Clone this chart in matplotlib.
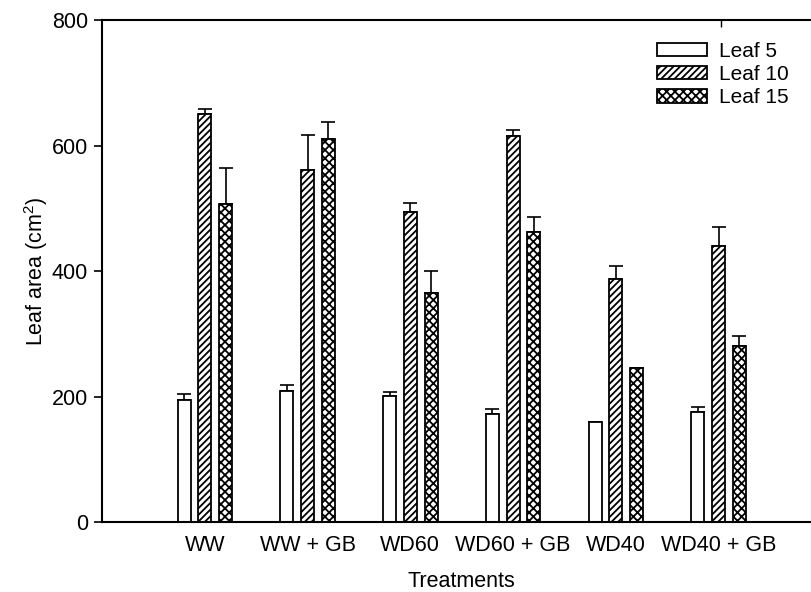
import numpy as np
import matplotlib
matplotlib.use("Agg")
import matplotlib.pyplot as plt

plt.rcParams['font.family'] = ['Liberation Sans', 'DejaVu Sans']
plt.rcParams['mathtext.default'] = 'regular'
plt.rcParams['hatch.linewidth'] = 1.3

treatments = ["WW", "WW + GB", "WD60", "WD60 + GB", "WD40", "WD40 + GB"]
leaf5 = [194, 209, 201, 173, 159, 175]
leaf5_err = [10, 9, 7, 8, 1, 9]
leaf10 = [651, 561, 494, 615, 388, 440]
leaf10_err = [8, 57, 15, 11, 21, 30]
leaf15 = [508, 611, 366, 462, 245, 280]
leaf15_err = [57, 27, 35, 25, 1, 17]

series = [("Leaf 5", leaf5, leaf5_err, ""),
          ("Leaf 10", leaf10, leaf10_err, "/////"),
          ("Leaf 15", leaf15, leaf15_err, "xxxx")]

fig = plt.figure(figsize=(8.11, 5.92), dpi=100)
ax = fig.add_axes([0.1258, 0.1182, 0.887, 0.8472])

x = np.arange(1, len(treatments) + 1)
width = 0.127
step = 0.202
for i, (name, vals, errs, hatch) in enumerate(series):
    pos = x + (i - 1) * step
    ax.bar(pos, vals, width=width, color="white", edgecolor="black",
           linewidth=1.3, hatch=hatch, label=name, zorder=2)
    ax.errorbar(pos, vals, yerr=[np.zeros(len(errs)), errs], fmt="none",
                ecolor="black", elinewidth=1.2, capsize=4.8, capthick=1.2, zorder=1)

ax.set_xlim(0, 7.0)
ax.set_ylim(0, 800)
ax.set_yticks([0, 200, 400, 600, 800])
ax.set_xticks(x)
ax.set_xticklabels(treatments)
ax.tick_params(axis="y", direction="out", length=6, width=1.2, labelsize=15.5, pad=4)
ax.tick_params(axis="x", length=0, labelsize=15.5, pad=9)
# stray tick on the top frame
ax.set_xticks([6.02], minor=True)
ax.tick_params(axis="x", which="minor", bottom=False, top=True,
               direction="in", length=5, width=1.0)

for s in ["left", "bottom", "top"]:
    ax.spines[s].set_linewidth(1.5)
ax.spines["right"].set_visible(False)

ax.set_xlabel("Treatments", fontsize=15.5, labelpad=11)
ax.set_ylabel("Leaf area (cm$^2$)", fontsize=15.5, labelpad=1)

ax.legend(loc="upper left", bbox_to_anchor=(0.771, 0.957), frameon=False,
          fontsize=15, handlelength=2.4, handleheight=0.6, labelspacing=0.2,
          handletextpad=0.6, borderaxespad=0, borderpad=0)

fig.savefig("out.png", dpi=100)
